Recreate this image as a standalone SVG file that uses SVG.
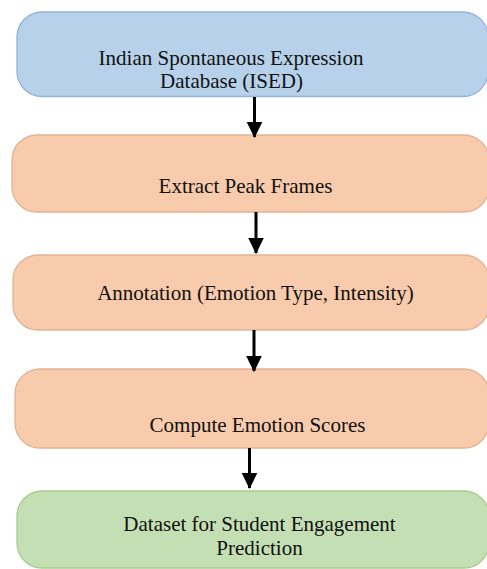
<svg xmlns="http://www.w3.org/2000/svg" width="487" height="569" viewBox="0 0 487 569">
<style>
.t{font-family:"Liberation Serif","Times New Roman",serif;font-size:21px;fill:#111;text-anchor:middle}
.blue{fill:#B7D1EA;stroke:#92B3DA;stroke-width:1.3}
.peach{fill:#F7CBAC;stroke:#E2B392;stroke-width:1.3}
.green{fill:#C5DFB4;stroke:#A8CC8E;stroke-width:1.3}
.c{stroke:#000;stroke-width:3;fill:none}
</style>
<defs>
<marker id="ah" markerWidth="6" markerHeight="6" refX="5" refY="3" orient="auto" markerUnits="strokeWidth">
<path d="M0,0.4 L5.3,3 L0,5.6 Z" fill="#000"/>
</marker>
</defs>
<rect width="487" height="569" fill="#fff"/>
<g id="n1"><rect class="blue" x="17" y="12" width="471" height="84.5" rx="25"/>
<text class="t" x="231" y="65">Indian Spontaneous Expression</text>
<text class="t" x="231.5" y="88">Database (ISED)</text></g>
<g id="n2"><rect class="peach" x="12" y="135" width="477" height="77" rx="25"/>
<text class="t" x="245.5" y="192.5">Extract Peak Frames</text></g>
<g id="n3"><rect class="peach" x="13" y="255" width="476" height="75" rx="25"/>
<text class="t" x="255.5" y="300">Annotation (Emotion Type, Intensity)</text></g>
<g id="n4"><rect class="peach" x="15" y="369" width="474" height="79" rx="25"/>
<text class="t" x="257.5" y="432">Compute Emotion Scores</text></g>
<g id="n5"><rect class="green" x="17" y="491" width="472" height="77" rx="25"/>
<text class="t" x="259.5" y="531">Dataset for Student Engagement</text>
<text class="t" x="259.5" y="555">Prediction</text></g>
<g id="connectors">
<line class="c" x1="254.5" y1="97" x2="254.5" y2="137" marker-end="url(#ah)"/>
<line class="c" x1="256" y1="212" x2="256" y2="253" marker-end="url(#ah)"/>
<line class="c" x1="254" y1="330" x2="254" y2="371" marker-end="url(#ah)"/>
<line class="c" x1="249.5" y1="448" x2="249.5" y2="488" marker-end="url(#ah)"/>
</g>
</svg>
